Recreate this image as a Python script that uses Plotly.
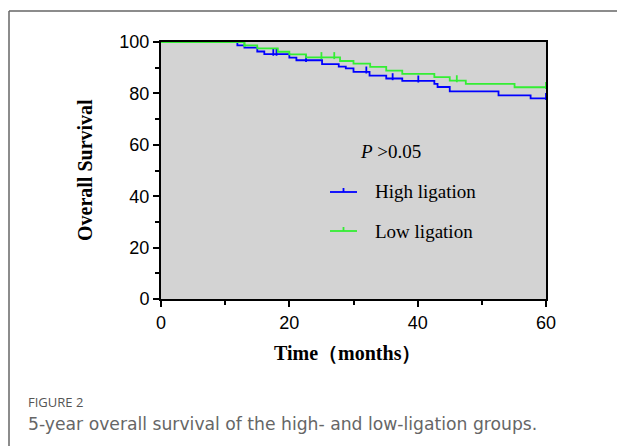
import plotly.graph_objects as go

# ---- data ----
high_times = [0, 11.9, 13.0, 15.0, 16.1, 20.0, 21.1, 25.1, 27.7, 28.8, 30.0, 32.5, 35.1, 37.6, 42.6, 43.1, 45.0, 52.6, 57.6, 60]
high_surv = [100, 98.7, 97.8, 96.3, 95.3, 93.9, 92.9, 91.4, 90.4, 89.7, 88.4, 86.9, 85.8, 84.9, 83.7, 82.5, 80.8, 79.2, 78.1]
high_cens = [1.0, 8.0, 10.0, 17.5, 18.0, 22.6, 32.0, 36.1, 40.1, 60]

low_times = [0, 13.0, 15.0, 18.2, 20.0, 22.6, 27.9, 30.0, 32.6, 35.1, 37.6, 42.6, 45.0, 47.5, 55.1, 60]
low_surv = [100, 98.7, 97.5, 96.2, 95.2, 94.0, 92.6, 91.6, 90.3, 88.9, 87.6, 86.3, 85.0, 83.7, 82.4]
low_cens = [13.0, 25.0, 27.0, 46.1, 60]

x_ticks = [0, 20, 40, 60]
y_ticks = [0, 20, 40, 60, 80, 100]

BLUE = "#0000ff"
GREEN = "#33ee33"


def step_xy(times, surv):
    xs, ys = [], []
    for i, s in enumerate(surv):
        xs += [times[i], times[i + 1]]
        ys += [s, s]
    return xs, ys


def surv_at(times, surv, t):
    val = surv[0]
    for i, s in enumerate(surv):
        if times[i] <= t:
            val = s
    return val


fig = go.Figure()

for times, surv, cens, col, name in [
    (high_times, high_surv, high_cens, BLUE, "High ligation"),
    (low_times, low_surv, low_cens, GREEN, "Low ligation"),
]:
    xs, ys = step_xy(times, surv)
    fig.add_trace(go.Scatter(x=xs, y=ys, mode="lines", line=dict(color=col, width=1.8),
                             showlegend=False, hoverinfo="skip", cliponaxis=False))
    cy = [surv_at(times, surv, t) + 0.7 for t in cens]
    fig.add_trace(go.Scatter(x=cens, y=cy, mode="markers",
                             marker=dict(symbol="line-ns", size=5, line=dict(color=col, width=1.8)),
                             showlegend=False, hoverinfo="skip", cliponaxis=False))

fig.update_layout(
    width=617, height=446,
    margin=dict(l=161, r=617 - 546, t=42, b=446 - 299),
    paper_bgcolor="white",
    plot_bgcolor="#d3d3d3",
    showlegend=False,
    font=dict(family="Liberation Sans, Arial", color="black"),
)

fig.update_xaxes(range=[0, 60], tickvals=x_ticks, showgrid=False, zeroline=False,
                 showline=True, linecolor="black", linewidth=2, mirror=True,
                 ticks="outside", ticklen=6, tickwidth=2, tickcolor="black",
                 tickfont=dict(size=18, family="Liberation Sans, Arial"),
                 minor=dict(tickvals=[10, 30, 50], ticks="outside", ticklen=4, tickwidth=2, tickcolor="black"))
fig.update_yaxes(range=[0, 100], tickvals=y_ticks, showgrid=False, zeroline=False,
                 showline=True, linecolor="black", linewidth=2, mirror=True,
                 ticks="outside", ticklen=6, tickwidth=2, tickcolor="black",
                 tickfont=dict(size=18, family="Liberation Sans, Arial"),
                 minor=dict(tickvals=[10, 30, 50, 70, 90], ticks="outside", ticklen=4, tickwidth=2, tickcolor="black"))


def px(x):
    return (x - 161) / 385


def py(y):
    return (299 - y) / 257


serif = "Liberation Serif, Times New Roman, serif"
ann = [
    dict(x=px(85), y=py(170), text="<b>Overall Survival</b>", textangle=-90,
         font=dict(family=serif, size=20)),
    dict(x=px(347), y=py(353), text="<b>Time（months）</b>", font=dict(family=serif, size=20)),
    dict(x=px(358), y=py(151), text="<i>P</i> >0.05", xanchor="left", font=dict(family=serif, size=19)),
    dict(x=px(373), y=py(192), text="High ligation", xanchor="left", font=dict(family=serif, size=19)),
    dict(x=px(373), y=py(231), text="Low ligation", xanchor="left", font=dict(family=serif, size=19)),
    dict(x=px(26), y=py(402), text="FIGURE 2", xanchor="left",
         font=dict(family="Open Sans, Noto Sans", size=13, color="#555555")),
    dict(x=px(26), y=py(424), text="5-year overall survival of the high- and low-ligation groups.",
         xanchor="left", font=dict(family="DejaVu Sans", size=17.2, color="#666666")),
]
for a in ann:
    a.update(xref="paper", yref="paper", showarrow=False)
    a.setdefault("xanchor", "center")
    a.setdefault("yanchor", "middle")
fig.update_layout(annotations=ann)

shapes = [
    # figure frame (top and left)
    dict(type="line", xref="paper", yref="paper", x0=px(9), x1=px(620), y0=py(11), y1=py(11),
         line=dict(color="#666666", width=1.5)),
    dict(type="line", xref="paper", yref="paper", x0=px(9), x1=px(9), y0=py(11), y1=py(450),
         line=dict(color="#666666", width=1.5)),
    # legend samples
    dict(type="line", xref="paper", yref="paper", x0=px(330), x1=px(357), y0=py(192), y1=py(192),
         line=dict(color=BLUE, width=1.8)),
    dict(type="line", xref="paper", yref="paper", x0=px(343.5), x1=px(343.5), y0=py(192), y1=py(188),
         line=dict(color=BLUE, width=1.8)),
    dict(type="line", xref="paper", yref="paper", x0=px(330), x1=px(357), y0=py(231), y1=py(231),
         line=dict(color=GREEN, width=1.8)),
    dict(type="line", xref="paper", yref="paper", x0=px(343.5), x1=px(343.5), y0=py(231), y1=py(227),
         line=dict(color=GREEN, width=1.8)),
]
fig.update_layout(shapes=shapes)

fig.write_html("out.html", config={"displayModeBar": False},
               post_script="document.body.style.margin='0px';")
